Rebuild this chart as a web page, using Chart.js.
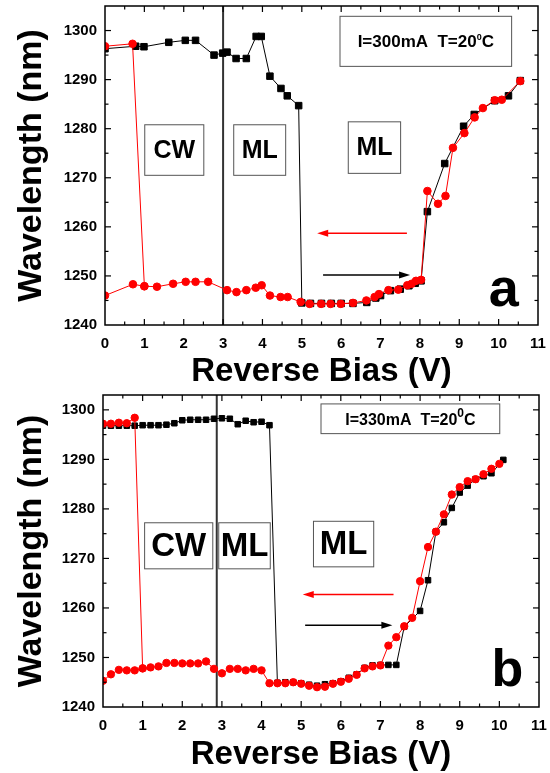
<!DOCTYPE html>
<html lang="en">
  <head>
    <meta charset="UTF-8" />
    <title>Wavelength vs Reverse Bias</title>
    <script src="https://cdn.jsdelivr.net/npm/chart.js"></script>
    <style>
      body {
        margin: 0;
        background: #fff;
      }
      canvas {
        position: absolute;
        left: 0;
      }
      #chart-a {
        top: 0;
      }
      #chart-b {
        top: 390px;
      }
    </style>
  </head>
  <body>
    <canvas id="chart-a" width="550" height="390"></canvas>
    <canvas id="chart-b" width="550" height="383"></canvas>

    <script>
      // ---- panel a : I = 300 mA ----
      // forward sweep (black squares)
      const aFwdBias = [0, 0.78, 0.99, 1.62, 2.04, 2.3, 2.77, 2.99, 3.1, 3.33, 3.59, 3.84, 3.97, 4.19, 4.47, 4.63, 4.92,
        5.0, 5.22, 5.5, 5.75, 6.0, 6.3, 6.65, 6.88, 7.0, 7.25, 7.5, 7.72, 7.88, 8.03,
        8.19, 8.63, 9.11, 9.38, 9.9, 10.25, 10.55];
      const aFwdWave = [1296.3, 1296.8, 1296.7, 1297.6, 1298.0, 1298.0, 1295.0, 1295.4, 1295.6, 1294.3, 1294.3, 1298.8, 1298.8, 1290.7, 1288.2, 1286.7, 1284.7,
        1244.5, 1244.4, 1244.4, 1244.4, 1244.4, 1244.4, 1244.6, 1245.5, 1246.0, 1247.0, 1247.3, 1248.0, 1248.5, 1249.0,
        1263.1, 1272.9, 1280.5, 1282.9, 1285.7, 1286.7, 1289.8];
      // reverse sweep (red circles)
      const aRevBias = [0, 0.71, 1.0, 1.32, 1.73, 2.05, 2.3, 2.62, 3.1, 3.34, 3.59, 3.83, 3.98, 4.19, 4.46, 4.64,
        4.97, 5.2, 5.49, 5.73, 5.99, 6.3, 6.64, 6.85, 6.96, 7.2, 7.45, 7.68, 7.79, 7.9, 8.03,
        8.19, 8.46, 8.65, 8.84, 9.13, 9.39, 9.6, 9.9, 10.08, 10.55];
      const aRevWave = [1246.0, 1248.3, 1247.9, 1247.8, 1248.4, 1248.8, 1248.8, 1248.8, 1247.1, 1246.7, 1247.1, 1247.6, 1248.1, 1246.0, 1245.7, 1245.7,
        1244.7, 1244.3, 1244.3, 1244.3, 1244.3, 1244.5, 1245.0, 1245.7, 1246.3, 1247.1, 1247.2, 1248.1, 1248.4, 1249.0, 1249.2,
        1267.3, 1264.7, 1266.3, 1276.1, 1279.1, 1282.3, 1284.2, 1285.8, 1285.9, 1289.7];
      const aRevHiBias = [0, 0.7, 1.0];
      const aRevHiWave = [1296.8, 1297.3, 1247.9];

      // ---- panel b : I = 330 mA ----
      const bFwdBias = [0, 0.2, 0.4, 0.6, 0.8, 1.0, 1.2, 1.4, 1.6, 1.8, 2.0, 2.2, 2.4, 2.6, 2.8, 3.0, 3.2, 3.4, 3.6, 3.8, 4.0, 4.2,
        4.4, 4.6, 4.8, 5.0, 5.2, 5.4, 5.6, 5.8, 6.0, 6.2, 6.4, 6.6, 6.8, 7.0, 7.2, 7.4,
        7.6, 8.0, 8.2, 8.4, 8.6, 8.8, 9.0, 9.2, 9.4, 9.6, 9.8, 10.1];
      const bFwdWave = [1296.8, 1296.8, 1296.8, 1296.8, 1296.8, 1296.9, 1296.9, 1296.9, 1297.0, 1297.3, 1297.9, 1298.0, 1298.0, 1298.0, 1298.2, 1298.3, 1298.2, 1297.1, 1297.8, 1297.5, 1297.6, 1296.9,
        1244.9, 1245.0, 1245.0, 1244.8, 1244.5, 1244.3, 1244.6, 1244.8, 1245.2, 1245.9, 1246.6, 1247.9, 1248.4, 1248.5, 1248.5, 1248.5,
        1256.2, 1259.4, 1265.6, 1275.4, 1277.3, 1280.2, 1283.3, 1284.7, 1286.0, 1286.6, 1287.2, 1289.9];
      const bRevBias = [0, 0.2, 0.4, 0.6, 0.8, 1.0, 1.2, 1.4, 1.6, 1.8, 2.0, 2.2, 2.4, 2.6, 2.8, 3.0, 3.2, 3.4, 3.6, 3.8, 4.0,
        4.2, 4.4, 4.6, 4.8, 5.0, 5.2, 5.4, 5.6, 5.8, 6.0, 6.2, 6.4, 6.6, 6.8, 7.0,
        7.2, 7.4, 7.6, 7.8, 8.0, 8.2, 8.4, 8.6, 8.8, 9.0, 9.2, 9.4, 9.6, 9.8, 10.0];
      const bRevWave = [1245.3, 1246.6, 1247.5, 1247.4, 1247.4, 1247.8, 1248.0, 1248.2, 1248.9, 1248.9, 1248.8, 1248.8, 1248.8, 1249.2, 1247.7, 1246.8, 1247.7, 1247.7, 1247.4, 1247.7, 1247.4,
        1244.8, 1244.8, 1244.8, 1245.0, 1244.7, 1244.3, 1244.0, 1244.1, 1244.7, 1245.1, 1245.7, 1246.5, 1247.8, 1248.2, 1248.4,
        1252.4, 1254.1, 1256.3, 1258.0, 1265.4, 1272.3, 1275.4, 1278.9, 1282.9, 1284.4, 1285.6, 1286.0, 1287.0, 1288.1, 1289.1];
      const bRevHiBias = [0, 0.2, 0.4, 0.6, 0.8, 1.0];
      const bRevHiWave = [1297.2, 1297.2, 1297.4, 1297.3, 1298.4, 1247.8];

      const xTickValues = [0, 1, 2, 3, 4, 5, 6, 7, 8, 9, 10, 11];
      const yTickValues = [1240, 1250, 1260, 1270, 1280, 1290, 1300];

      const FONT = "Arial, 'Liberation Sans', sans-serif";
      const RED = "#ff0000";

      function pts(xs, ys) {
        return xs.map((x, i) => ({ x: x, y: ys[i] }));
      }

      function series(data, color, style, radius, order) {
        return {
          data: data,
          showLine: true,
          borderColor: color,
          backgroundColor: color,
          borderWidth: 1,
          pointStyle: style,
          pointRadius: radius,
          pointBorderWidth: 1,
          pointBorderColor: color,
          pointBackgroundColor: color,
          order: order,
        };
      }

      // annotations drawn on top of each chart, placed in data units
      function makeDecor(d) {
        function line(ctx, x1, y1, x2, y2) {
          ctx.beginPath();
          ctx.moveTo(x1, y1);
          ctx.lineTo(x2, y2);
          ctx.stroke();
        }
        return {
          id: "decor",
          beforeDatasetsDraw(chart) {
            const { ctx, chartArea: a, scales } = chart;
            const px = scales.x.getPixelForValue(d.divider);
            ctx.save();
            ctx.strokeStyle = "#333";
            ctx.lineWidth = 2;
            line(ctx, px, a.top, px, a.bottom);
            ctx.restore();
          },
          afterDraw(chart) {
            const { ctx, chartArea: a, scales } = chart;
            const x = scales.x;
            const y = scales.y;
            ctx.save();

            // frame
            ctx.strokeStyle = "#000";
            ctx.lineWidth = 1.5;
            ctx.strokeRect(a.left, a.top, a.right - a.left, a.bottom - a.top);

            // inward ticks on all four sides
            ctx.lineWidth = 1.2;
            for (let v = 0.5; v < 11; v += 0.5) {
              const len = Number.isInteger(v) ? 6 : 3.5;
              const p = x.getPixelForValue(v);
              line(ctx, p, a.bottom, p, a.bottom - len);
              line(ctx, p, a.top, p, a.top + len);
            }
            for (let v = 1245; v < y.max; v += 5) {
              const len = v % 10 === 0 ? 6 : 3.5;
              const p = y.getPixelForValue(v);
              line(ctx, a.left, p, a.left + len, p);
              line(ctx, a.right, p, a.right - len, p);
            }

            // labelled boxes
            ctx.textAlign = "center";
            ctx.textBaseline = "middle";
            d.boxes.forEach((b) => {
              const x1 = x.getPixelForValue(b.x1);
              const x2 = x.getPixelForValue(b.x2);
              const y1 = y.getPixelForValue(b.y1);
              const y2 = y.getPixelForValue(b.y2);
              ctx.strokeStyle = "#555";
              ctx.lineWidth = 1;
              ctx.strokeRect(x1, y1, x2 - x1, y2 - y1);
              ctx.fillStyle = "#000";
              ctx.font = "bold " + b.size + "px " + FONT;
              ctx.fillText(b.text, (x1 + x2) / 2, (y1 + y2) / 2 + 1);
            });

            // note box with superscript
            const n = d.note;
            const nx1 = x.getPixelForValue(n.x1);
            const nx2 = x.getPixelForValue(n.x2);
            const ny1 = y.getPixelForValue(n.y1);
            const ny2 = y.getPixelForValue(n.y2);
            ctx.strokeStyle = "#555";
            ctx.lineWidth = 1;
            ctx.strokeRect(nx1, ny1, nx2 - nx1, ny2 - ny1);
            ctx.fillStyle = "#000";
            ctx.textAlign = "left";
            ctx.textBaseline = "alphabetic";
            const mainFont = "bold " + n.size + "px " + FONT;
            const supFont = "bold " + n.supSize + "px " + FONT;
            ctx.font = mainFont;
            const w1 = ctx.measureText(n.text).width;
            const w3 = ctx.measureText(n.tail).width;
            ctx.font = supFont;
            const w2 = ctx.measureText(n.sup).width;
            let tx = (nx1 + nx2) / 2 - (w1 + w2 + w3) / 2;
            const base = (ny1 + ny2) / 2 + n.size * 0.36;
            ctx.font = mainFont;
            ctx.fillText(n.text, tx, base);
            tx += w1;
            ctx.font = supFont;
            ctx.fillText(n.sup, tx, base - n.size * 0.45);
            tx += w2;
            ctx.font = mainFont;
            ctx.fillText(n.tail, tx, base);

            // sweep direction arrows
            d.arrows.forEach((ar) => {
              const x1 = x.getPixelForValue(ar.from);
              const x2 = x.getPixelForValue(ar.to);
              const py = y.getPixelForValue(ar.at);
              const dir = Math.sign(x2 - x1);
              ctx.strokeStyle = ar.color;
              ctx.fillStyle = ar.color;
              ctx.lineWidth = 1.5;
              line(ctx, x1, py, x2 - dir * 8, py);
              ctx.beginPath();
              ctx.moveTo(x2, py);
              ctx.lineTo(x2 - dir * 11, py - 3.5);
              ctx.lineTo(x2 - dir * 11, py + 3.5);
              ctx.closePath();
              ctx.fill();
            });

            // panel letter
            ctx.fillStyle = "#000";
            ctx.textAlign = "center";
            ctx.textBaseline = "alphabetic";
            ctx.font = "bold " + d.letter.size + "px " + FONT;
            ctx.fillText(d.letter.text, x.getPixelForValue(d.letter.x), y.getPixelForValue(d.letter.y));

            ctx.restore();
          },
        };
      }

      function makeChart(id, cfg) {
        const tickFont = { family: FONT, size: 15, weight: "bold" };
        const titleFont = { family: FONT, size: 33, weight: "bold", lineHeight: 1 };
        return new Chart(document.getElementById(id), {
          type: "scatter",
          data: { datasets: cfg.datasets },
          options: {
            responsive: false,
            animation: false,
            devicePixelRatio: 1,
            layout: { padding: cfg.padding },
            plugins: { legend: { display: false }, tooltip: { enabled: false } },
            scales: {
              x: {
                type: "linear",
                min: 0,
                max: 11,
                afterBuildTicks: (s) => {
                  s.ticks = xTickValues.map((v) => ({ value: v }));
                },
                ticks: {
                  font: tickFont,
                  color: "#000",
                  padding: 10,
                  maxRotation: 0,
                  autoSkip: false,
                  callback: (v) => String(v),
                },
                grid: { display: false, drawTicks: false },
                border: { display: false },
                title: {
                  display: true,
                  text: "Reverse Bias (V)",
                  font: titleFont,
                  color: "#000",
                  padding: { top: 0, bottom: 1.5 },
                },
                afterFit: (s) => {
                  s.height = cfg.xHeight;
                  s.paddingLeft = 0;
                  s.paddingRight = 0;
                },
              },
              y: {
                type: "linear",
                min: 1240,
                max: cfg.yMax,
                afterBuildTicks: (s) => {
                  s.ticks = yTickValues.map((v) => ({ value: v }));
                },
                ticks: {
                  font: tickFont,
                  color: "#000",
                  padding: 8,
                  callback: (v) => String(v),
                },
                grid: { display: false, drawTicks: false },
                border: { display: false },
                title: {
                  display: true,
                  text: "Wavelength (nm)",
                  font: { family: FONT, size: 34, weight: "bold", lineHeight: 1 },
                  color: "#000",
                  padding: { top: 15, bottom: 0 },
                },
                afterFit: (s) => {
                  s.width = cfg.yWidth;
                  s.paddingTop = 0;
                  s.paddingBottom = 0;
                },
              },
            },
          },
          plugins: [makeDecor(cfg.decor)],
        });
      }

      makeChart("chart-a", {
        yMax: 1305,
        xHeight: 65,
        yWidth: 105,
        padding: { top: 6, right: 12, bottom: 0, left: 0 },
        datasets: [
          series(pts(aRevBias, aRevWave), RED, "circle", 3.8, 1),
          series(pts(aRevHiBias, aRevHiWave), RED, "circle", 3.8, 2),
          series(pts(aFwdBias, aFwdWave), "#000", "rect", 4.6, 3),
        ],
        decor: {
          divider: 3.0,
          boxes: [
            { text: "CW", x1: 1.01, x2: 2.51, y1: 1280.8, y2: 1270.5, size: 25 },
            { text: "ML", x1: 3.27, x2: 4.59, y1: 1280.8, y2: 1270.5, size: 25 },
            { text: "ML", x1: 6.18, x2: 7.51, y1: 1281.4, y2: 1270.9, size: 25 },
          ],
          note: { x1: 5.97, x2: 10.33, y1: 1302.9, y2: 1292.7, text: "I=300mA  T=20", sup: "0", tail: "C", size: 17, supSize: 9 },
          arrows: [
            { from: 7.67, to: 5.39, at: 1258.7, color: RED },
            { from: 5.54, to: 7.75, at: 1250.2, color: "#000" },
          ],
          letter: { text: "a", x: 10.13, y: 1243.8, size: 54 },
        },
      });

      makeChart("chart-b", {
        yMax: 1303,
        xHeight: 66,
        yWidth: 103,
        padding: { top: 4, right: 11, bottom: 0, left: 0 },
        datasets: [
          series(pts(bRevBias, bRevWave), RED, "circle", 3.7, 1),
          series(pts(bRevHiBias, bRevHiWave), RED, "circle", 3.7, 2),
          series(pts(bFwdBias, bFwdWave), "#000", "rect", 3.9, 3),
        ],
        decor: {
          divider: 2.87,
          boxes: [
            { text: "CW", x1: 1.05, x2: 2.77, y1: 1277.2, y2: 1267.9, size: 33 },
            { text: "ML", x1: 2.92, x2: 4.22, y1: 1277.2, y2: 1267.9, size: 33 },
            { text: "ML", x1: 5.31, x2: 6.83, y1: 1277.5, y2: 1268.3, size: 33 },
          ],
          note: { x1: 5.5, x2: 10.01, y1: 1301.2, y2: 1295.2, text: "I=330mA  T=20", sup: "0", tail: "C", size: 16, supSize: 12 },
          arrows: [
            { from: 7.33, to: 5.04, at: 1262.7, color: RED },
            { from: 5.1, to: 7.3, at: 1256.5, color: "#000" },
          ],
          letter: { text: "b", x: 10.2, y: 1244.2, size: 52 },
        },
      });
    </script>
  </body>
</html>
